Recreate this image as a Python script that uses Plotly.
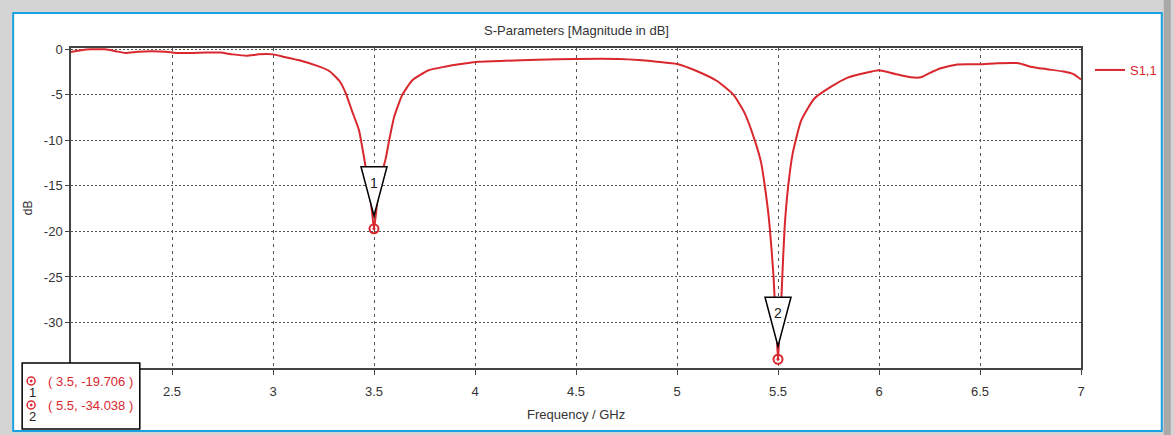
import plotly.graph_objects as go

# ---------------- data ----------------
freq_ghz = [2.00, 2.05, 2.10, 2.17, 2.22, 2.27, 2.33, 2.40, 2.47, 2.52, 2.60, 2.67, 2.74,
            2.80, 2.87, 2.93, 3.00, 3.05, 3.13, 3.23, 3.28, 3.33, 3.36, 3.39, 3.426, 3.45,
            3.465, 3.48, 3.49, 3.50, 3.51, 3.52, 3.54, 3.558, 3.575, 3.60, 3.64, 3.69, 3.77,
            3.85, 3.93, 4.02, 4.15, 4.31, 4.50, 4.71, 4.81, 4.90, 5.00, 5.10, 5.20, 5.28,
            5.335, 5.385, 5.417, 5.434, 5.454, 5.467, 5.478, 5.483, 5.49, 5.495, 5.50,
            5.505, 5.51, 5.517, 5.522, 5.533, 5.55, 5.573, 5.615, 5.68, 5.763, 5.845, 5.93,
            6.00, 6.08, 6.158, 6.207, 6.25, 6.306, 6.388, 6.503, 6.585, 6.692, 6.75, 6.832,
            6.914, 6.96, 7.00]
s11_db = [-0.3, -0.1, 0.0, 0.0, -0.2, -0.4, -0.25, -0.2, -0.25, -0.4, -0.4, -0.35, -0.35,
          -0.55, -0.7, -0.55, -0.55, -0.8, -1.2, -1.9, -2.4, -3.5, -4.8, -6.7, -8.9, -11.8,
          -13.8, -16.0, -17.8, -19.706, -18.0, -16.0, -13.5, -12.0, -10.0, -7.4, -5.0, -3.4, -2.3,
          -1.9, -1.6, -1.35, -1.25, -1.15, -1.05, -1.05, -1.16, -1.35, -1.6, -2.4, -3.5, -5.0,
          -7.0, -10.0, -12.5, -14.9, -18.4, -21.7, -25.0, -27.2, -30.0, -32.0, -34.038,
          -32.0, -30.0, -27.2, -24.6, -19.5, -15.1, -11.4, -7.8, -5.4, -4.1, -3.1, -2.6,
          -2.3, -2.7, -3.07, -3.07, -2.6, -2.07, -1.65, -1.63, -1.52, -1.52, -1.9, -2.18,
          -2.44, -2.7, -3.3]

marker_ids = ["1", "2"]
marker_freq = [3.5, 5.5]
marker_db = [-19.706, -34.038]

x_tickvals = [2.5, 3, 3.5, 4, 4.5, 5, 5.5, 6, 6.5, 7]
x_ticktext = ["2.5", "3", "3.5", "4", "4.5", "5", "5.5", "6", "6.5", "7"]
y_tickvals = [0, -5, -10, -15, -20, -25, -30]
y_ticktext = ["0", "-5", "-10", "-15", "-20", "-25", "-30"]

series_name = "S1,1"
title_text = "S-Parameters [Magnitude in dB]"
x_title = "Frequency / GHz"
y_title = "dB"

# ---------------- layout helpers ----------------
W, H = 1174, 435
L, R, T, B = 71, 1084, 48, 368  # plot area in pixels


def px(p):
    return (p - L) / (R - L)


def py(p):
    return (B - p) / (B - T)


RED = "#d9272e"
FONT = "Liberation Sans"

fig = go.Figure()
fig.add_trace(go.Scatter(x=freq_ghz, y=s11_db, mode="lines", name=series_name,
                         line=dict(color=RED, width=2, shape="spline", smoothing=0.5),
                         showlegend=True))
fig.add_trace(go.Scatter(x=marker_freq, y=marker_db, mode="markers", showlegend=False,
                         marker=dict(symbol="circle-open-dot", size=9, color=RED,
                                     line=dict(width=2, color=RED)),
                         cliponaxis=False))

shapes = []
annotations = []

# outer window frame
shapes.append(dict(type="rect", xref="paper", yref="paper", layer="below",
                   x0=px(13), x1=px(1165), y0=py(431), y1=py(13),
                   fillcolor="white", line=dict(color="#1ba1e2", width=2)))
shapes.append(dict(type="rect", xref="paper", yref="paper", layer="below",
                   x0=px(1167), x1=px(1174), y0=py(435), y1=py(0),
                   fillcolor="#a9a9a9", line=dict(width=0)))

# marker triangles + labels
for mid, f, d in zip(marker_ids, marker_freq, marker_db):
    shapes.append(dict(type="path", xref="x", yref="y", xsizemode="pixel", ysizemode="pixel",
                       xanchor=f, yanchor=d, path="M -13,62 L 13,62 L 0,13 Z",
                       fillcolor="white", line=dict(color="black", width=1.5), layer="above"))
    annotations.append(dict(x=f, y=d, xref="x", yref="y", text=mid, showarrow=False,
                            yshift=46, font=dict(family=FONT, size=14, color="#222")))

# marker readout box (bottom-left)
shapes.append(dict(type="rect", xref="paper", yref="paper", layer="above",
                   x0=px(22), x1=px(140), y0=py(429), y1=py(363),
                   fillcolor="white", line=dict(color="black", width=1.5)))
row_y = [381, 405]
for i, (mid, f, d) in enumerate(zip(marker_ids, marker_freq, marker_db)):
    cy = row_y[i]
    shapes.append(dict(type="circle", xref="paper", yref="paper", layer="above",
                       x0=px(27), x1=px(35), y0=py(cy + 4), y1=py(cy - 4),
                       line=dict(color=RED, width=1.5), fillcolor="rgba(0,0,0,0)"))
    shapes.append(dict(type="circle", xref="paper", yref="paper", layer="above",
                       x0=px(30), x1=px(32), y0=py(cy + 1), y1=py(cy - 1),
                       line=dict(color=RED, width=1), fillcolor=RED))
    annotations.append(dict(x=px(46), y=py(cy), xref="paper", yref="paper",
                            xanchor="left", yanchor="middle", showarrow=False,
                            text=f"( {f}, {d} )",
                            font=dict(family=FONT, size=13, color=RED)))
    annotations.append(dict(x=px(32), y=py(cy + 11), xref="paper", yref="paper",
                            xanchor="center", yanchor="middle", showarrow=False,
                            text=mid, font=dict(family=FONT, size=13, color="#222")))

# titles
annotations.append(dict(x=0.5, y=py(30), xref="paper", yref="paper", showarrow=False,
                        text=title_text, xanchor="center", yanchor="middle",
                        font=dict(family=FONT, size=13, color="#333")))
annotations.append(dict(x=0.5, y=py(414), xref="paper", yref="paper", showarrow=False,
                        text=x_title, xanchor="center", yanchor="middle",
                        font=dict(family=FONT, size=13, color="#333")))
annotations.append(dict(x=px(28), y=py(208), xref="paper", yref="paper", showarrow=False,
                        text=y_title, textangle=-90, xanchor="center", yanchor="middle",
                        font=dict(family=FONT, size=12, color="#333")))

fig.update_layout(
    width=W, height=H,
    margin=dict(l=L, r=W - R, t=T, b=H - B, pad=0),
    paper_bgcolor="#d4d4d4",
    plot_bgcolor="white",
    font=dict(family=FONT, size=13, color="#333"),
    shapes=shapes,
    annotations=annotations,
    legend=dict(x=px(1093), y=py(55), xanchor="left", yanchor="top",
                bgcolor="rgba(0,0,0,0)", borderwidth=0,
                font=dict(family=FONT, size=13, color=RED)),
    xaxis=dict(range=[2, 7], tickvals=x_tickvals, ticktext=x_ticktext,
               showgrid=True, gridcolor="#555", griddash="3px,4px", gridwidth=1,
               showline=True, linecolor="#444", linewidth=1.5, mirror=True,
               ticks="outside", ticklen=5, tickcolor="#444", ticklabelstandoff=6,
               zeroline=False, tickfont=dict(family=FONT, size=13, color="#333")),
    yaxis=dict(range=[-35, 0.15], tickvals=y_tickvals, ticktext=y_ticktext,
               showgrid=True, gridcolor="#555", griddash="2px,2px", gridwidth=1,
               showline=True, linecolor="#444", linewidth=1.5, mirror=True,
               ticks="outside", ticklen=4, tickcolor="#444",
               zeroline=False, tickfont=dict(family=FONT, size=13, color="#333")),
)

fig.write_html("out.html")
